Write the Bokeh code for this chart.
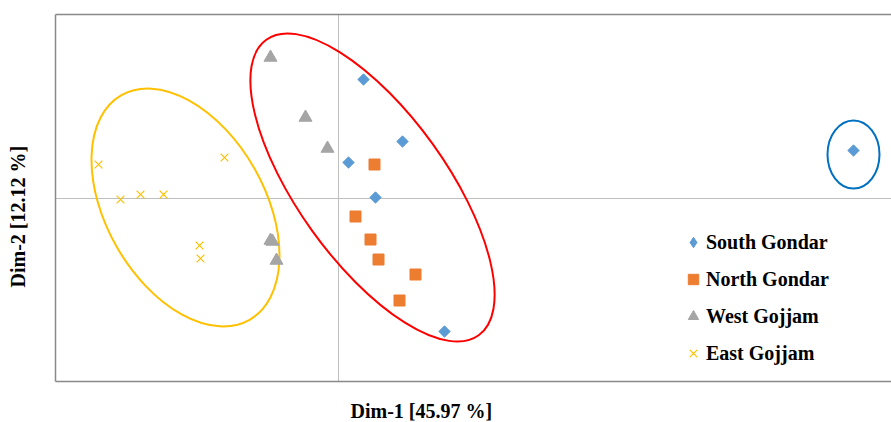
import math
from bokeh.plotting import figure
from bokeh.models import (Range1d, Span, Legend, LegendItem, Title, LinearAxis,
                          FixedTicker)
from bokeh.embed import file_html
from bokeh.resources import INLINE

# ---- data (PCA scores) ----
south_x = [0.50, 1.28, 0.20, 0.74, 2.12, 10.30]
south_y = [2.38, 1.14, 0.72, 0.02, -2.66, 0.96]

north_x = [0.72, 0.34, 0.64, 0.80, 1.54, 1.22]
north_y = [0.68, -0.36, -0.82, -1.22, -1.52, -2.04]

west_x = [-1.36, -0.66, -0.22, -1.36, -1.32, -1.24]
west_y = [2.82, 1.62, 1.00, -0.84, -0.86, -1.24]

east_x = [-4.80, -4.36, -3.96, -3.50, -2.28, -2.78, -2.76]
east_y = [0.68, -0.02, 0.08, 0.08, 0.82, -0.94, -1.20]

series_names = ["South Gondar", "North Gondar", "West Gojjam", "East Gojjam"]

# cluster ellipses (centre, full width/height, angle in degrees)
ellipse_x = [-3.06, 0.68, 10.30]
ellipse_y = [-0.18, 0.22, 0.88]
ellipse_w = [5.17, 7.28, 1.04]
ellipse_h = [3.17, 2.97, 1.36]
ellipse_angle_deg = [-60.3, -54.3, 0.0]
ellipse_colors = ["#FFC000", "#FF0000", "#0070C0"]

x_label = "Dim-1 [45.97 %]"
y_label = "Dim-2 [12.12 %]"

FONT = "Liberation Serif"
FRAME = "#898989"

p = figure(width=891, height=422,
           x_range=Range1d(-5.66, 11.06), y_range=Range1d(-3.66, 3.68),
           output_backend="svg", toolbar_location=None,
           min_border_left=55, min_border_right=0,
           min_border_top=14, min_border_bottom=41)
p.grid.visible = False
p.outline_line_color = None
p.background_fill_color = "white"
p.border_fill_color = "white"

bottom_axis = p.below[0]
left_axis = p.left[0]
top_axis = LinearAxis()
p.add_layout(top_axis, "above")
for ax in (bottom_axis, left_axis, top_axis):
    ax.ticker = FixedTicker(ticks=[])
    ax.axis_line_color = FRAME
    ax.axis_line_width = 1.5
    ax.major_tick_line_color = None
    ax.minor_tick_line_color = None
    ax.major_tick_out = 0
    ax.major_tick_in = 0
    ax.minor_tick_out = 0
    ax.minor_tick_in = 0
    ax.major_label_standoff = 0
    ax.major_label_text_font_size = "0px"

# blank axis labels only reserve space between the frame and the titles
for ax, gap in ((bottom_axis, 11), (left_axis, 22)):
    ax.axis_label = " "
    ax.axis_label_text_font_size = "1px"
    ax.axis_label_standoff = gap

# crossing zero lines
p.add_layout(Span(location=0, dimension="height", line_color="#BFBFBF",
                  line_width=1, level="underlay"))
p.add_layout(Span(location=0, dimension="width", line_color="#BFBFBF",
                  line_width=1, level="underlay"))

# ellipses
p.ellipse(x=ellipse_x, y=ellipse_y, width=ellipse_w, height=ellipse_h,
          angle=[math.radians(a) for a in ellipse_angle_deg],
          fill_color=None, line_color=ellipse_colors, line_width=2)

# hidden legend proxy for the diamond (tiny, under the real markers)
lg_s = p.scatter(south_x, south_y, marker="diamond", size=1,
                 fill_color="#5B9BD5", line_color="#5B9BD5")

# series
r_s = p.scatter(south_x, south_y, marker="square", angle=math.pi / 4, size=8,
                fill_color="#5B9BD5", line_color="#5B9BD5")
r_n = p.scatter(north_x, north_y, marker="square", size=11,
                fill_color="#ED7D31", line_color="#ED7D31")
r_w = p.scatter(west_x, west_y, marker="triangle", size=13,
                fill_color="#A5A5A5", line_color="#A5A5A5")
r_e = p.scatter(east_x, east_y, marker="x", size=11,
                line_color="#FFC000", line_width=1.2)

legend = Legend(items=[LegendItem(label=series_names[0], renderers=[lg_s]),
                       LegendItem(label=series_names[1], renderers=[r_n]),
                       LegendItem(label=series_names[2], renderers=[r_w]),
                       LegendItem(label=series_names[3], renderers=[r_e])],
                location=(625, 14), orientation="vertical",
                glyph_width=26, glyph_height=28, label_height=28,
                label_standoff=0, spacing=9, padding=0, margin=0,
                border_line_color=None, background_fill_alpha=0,
                label_text_font=FONT, label_text_font_style="bold",
                label_text_font_size="20px", label_text_color="black")
p.add_layout(legend)

p.add_layout(Title(text=x_label, align="left", offset=295, standoff=2,
                   vertical_align="bottom",
                   text_font=FONT, text_font_style="bold",
                   text_font_size="20px", text_color="black"), "below")
p.add_layout(Title(text=y_label, align="left", offset=94, standoff=2,
                   vertical_align="bottom",
                   text_font=FONT, text_font_style="bold",
                   text_font_size="20px", text_color="black"), "left")

open("out.html", "w").write(file_html(p, INLINE))
